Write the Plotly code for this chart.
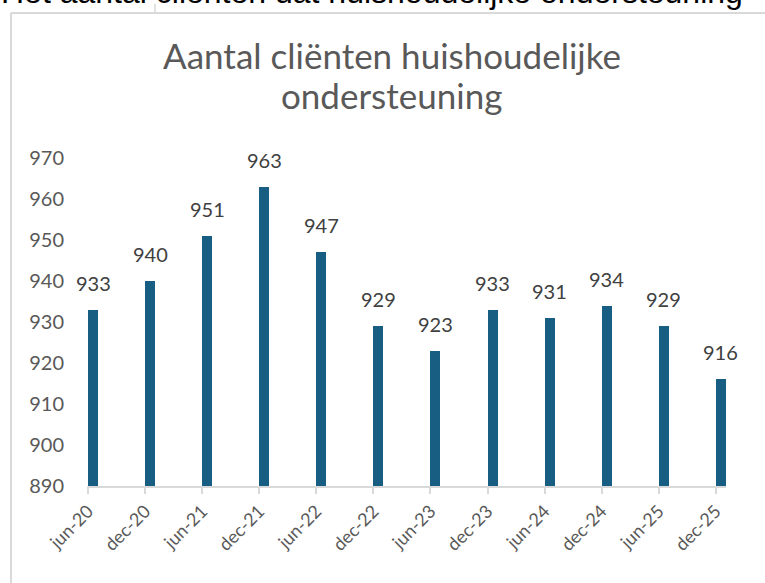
import plotly.graph_objects as go

categories = ["jun-20", "dec-20", "jun-21", "dec-21", "jun-22", "dec-22",
              "jun-23", "dec-23", "jun-24", "dec-24", "jun-25", "dec-25"]
values = [933, 940, 951, 963, 947, 929, 923, 933, 931, 934, 929, 916]
y_ticks = [890, 900, 910, 920, 930, 940, 950, 960, 970]

title_lines = ["Aantal cliënten huishoudelijke", "ondersteuning"]
page_text = "Het aantal cliënten dat huishoudelijke ondersteuning"

BAR = "#175E82"
AX_TXT = "#595959"
LBL_TXT = "#404040"
GRID = "#D9D9D9"
FONT = "Lato"

fig = go.Figure()
fig.add_trace(go.Bar(
    x=categories, y=values,
    marker=dict(color=BAR, line=dict(width=0)),
    width=0.175, offset=0,
    hoverinfo="x+y",
))

annotations = []
for c, v in zip(categories, values):
    annotations.append(dict(
        x=c, y=v, xref="x", yref="y", text=str(v), showarrow=False,
        xanchor="center", yanchor="bottom", xshift=5, yshift=13,
        font=dict(family=FONT, size=20, color=LBL_TXT),
    ))

# chart title (two lines)
for line, ypos in zip(title_lines, [1.314, 1.192]):
    annotations.append(dict(
        x=0.477, y=ypos, xref="paper", yref="paper", text=line,
        showarrow=False, xanchor="center", yanchor="middle",
        font=dict(family=FONT, size=35, color=AX_TXT),
    ))

# partially visible page text above the chart
annotations.append(dict(
    x=-0.138, y=1.444, xref="paper", yref="paper", text=page_text,
    showarrow=False, xanchor="left", yanchor="bottom",
    font=dict(family="Liberation Sans, Arial", size=32, color="#000000"),
))

shapes = [
    dict(type="line", xref="paper", yref="paper", x0=-0.119, x1=1.08,
         y0=1.442, y1=1.442, line=dict(color=GRID, width=2)),
    dict(type="line", xref="paper", yref="paper", x0=-0.119, x1=-0.119,
         y0=1.442, y1=-0.35, line=dict(color=GRID, width=2)),
    dict(type="line", xref="paper", yref="paper", x0=0.1064, x1=0.1064,
         y0=1.442, y1=1.47, line=dict(color=GRID, width=1.5)),
]

fig.update_layout(
    width=765, height=583,
    margin=dict(l=87, r=39, t=158, b=97),
    paper_bgcolor="white", plot_bgcolor="white",
    showlegend=False,
    xaxis=dict(
        type="category", range=[-0.02, 11.18],
        tickangle=-45, ticks="outside", ticklen=6, tickcolor=GRID,
        tickwidth=1.5,
        showline=True, linecolor=GRID, linewidth=1.5,
        showgrid=False, tickfont=dict(family=FONT, size=18, color=AX_TXT),
    ),
    yaxis=dict(
        range=[890, 970], tickvals=y_ticks, showgrid=False,
        showline=False, zeroline=False, ticks="",
        ticklabelstandoff=22,
        tickfont=dict(family=FONT, size=20, color=AX_TXT),
    ),
    annotations=annotations,
    shapes=shapes,
    bargap=0,
)

fig.write_html("out.html", config={"displayModeBar": False},
               post_script="document.body.style.margin='0px';")
